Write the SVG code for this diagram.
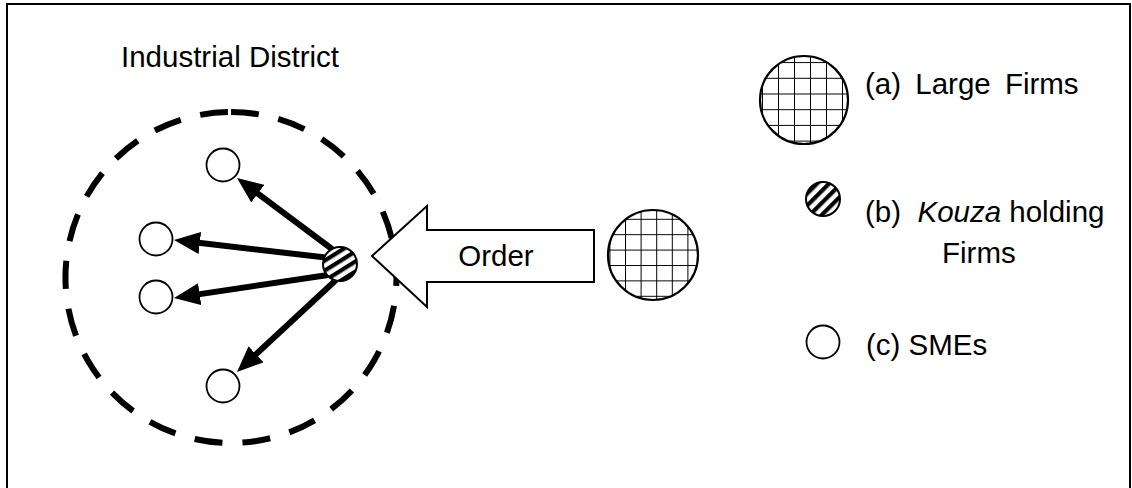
<svg xmlns="http://www.w3.org/2000/svg" width="1132" height="488" viewBox="0 0 1132 488">
  <style>
    .lbl { font-family: "Liberation Sans", Arial, sans-serif; font-size: 29.5px; fill: #000; }
    .sme { fill: #fff; stroke: #000; stroke-width: 1.8; }
    .big { stroke: #000; stroke-width: 2.2; }
    .kz { stroke: #000; stroke-width: 2; }
    .flow { stroke: #000; stroke-width: 6; fill: none; marker-end: url(#head); }
  </style>
  <defs>
    <marker id="head" markerUnits="userSpaceOnUse" markerWidth="26" markerHeight="22" viewBox="0 0 26 22" refX="10" refY="11" orient="auto">
      <path d="M0,0 L26,11 L0,22 z" fill="#000"/>
    </marker>
    <pattern id="gridA" patternUnits="userSpaceOnUse" x="10" y="15" width="16" height="15.7">
      <rect width="16" height="15.7" fill="#fff"/>
      <path d="M0,0 V15.7 M0,0 H16" stroke="#000" stroke-width="2"/>
    </pattern>
    <pattern id="gridB" patternUnits="userSpaceOnUse" x="625" y="265" width="15.6" height="15.4">
      <rect width="15.6" height="15.4" fill="#fff"/>
      <path d="M0,0 V15.4 M0,0 H15.6" stroke="#000" stroke-width="2"/>
    </pattern>
    <pattern id="stripeA" patternUnits="userSpaceOnUse" width="8.5" height="8.5" patternTransform="rotate(58)">
      <rect width="8.5" height="8.5" fill="#fff"/>
      <rect width="4.2" height="8.5" fill="#000"/>
    </pattern>
    <pattern id="stripeB" patternUnits="userSpaceOnUse" width="8.5" height="8.5" patternTransform="rotate(45)">
      <rect width="8.5" height="8.5" fill="#fff"/>
      <rect width="4.2" height="8.5" fill="#000"/>
    </pattern>
  </defs>

  <rect width="1132" height="488" fill="#fff"/>
  <!-- outer frame -->
  <rect x="7" y="4" width="1123" height="500" fill="none" stroke="#000" stroke-width="2"/>

  <!-- industrial district boundary -->
  <g id="district">
    <path d="M231,112 A165.5,165.5 0 1 1 230.9,112" fill="none" stroke="#000" stroke-width="6" stroke-dasharray="28 20"/>
    <text class="lbl" x="121" y="67">Industrial District</text>
  </g>

  <!-- SMEs inside the district -->
  <g id="sme1"><circle class="sme" cx="223" cy="165" r="16.5"/></g>
  <g id="sme2"><circle class="sme" cx="156" cy="239" r="16.5"/></g>
  <g id="sme3"><circle class="sme" cx="156" cy="297" r="16.5"/></g>
  <g id="sme4"><circle class="sme" cx="223" cy="386" r="16.5"/></g>

  <!-- distribution of work from the kouza holder -->
  <g id="connectors">
    <line class="flow" x1="336" y1="252" x2="249.8" y2="187.6"/>
    <line class="flow" x1="330" y1="258" x2="189.9" y2="241.8"/>
    <line class="flow" x1="328" y1="275" x2="189.8" y2="295.6"/>
    <line class="flow" x1="336" y1="280" x2="248.7" y2="361.1"/>
  </g>

  <!-- kouza holding firm -->
  <g id="kouza">
    <circle class="kz" cx="340" cy="264" r="17" fill="url(#stripeA)"/>
  </g>

  <!-- order block arrow -->
  <g id="order">
    <polygon points="372,256 427,206 427,230 594,230 594,282 427,282 427,307" fill="#fff" stroke="#000" stroke-width="2"/>
    <text class="lbl" x="496" y="266" text-anchor="middle">Order</text>
  </g>

  <!-- large firm placing the order -->
  <g id="largeFirm">
    <circle class="big" cx="653" cy="255" r="45" fill="url(#gridB)"/>
  </g>

  <!-- legend -->
  <g id="legendA">
    <circle class="big" cx="804" cy="100" r="44" fill="url(#gridA)"/>
    <text class="lbl" x="865" y="94" word-spacing="6">(a) Large Firms</text>
  </g>
  <g id="legendB">
    <circle class="kz" cx="823" cy="199" r="17" fill="url(#stripeB)"/>
    <text class="lbl" x="865" y="222" xml:space="preserve">(b)  <tspan font-style="italic">Kouza</tspan> holding</text>
    <text class="lbl" x="942" y="263">Firms</text>
  </g>
  <g id="legendC">
    <circle class="sme" cx="823" cy="342" r="16.5"/>
    <text class="lbl" x="866" y="355">(c) SMEs</text>
  </g>
</svg>
